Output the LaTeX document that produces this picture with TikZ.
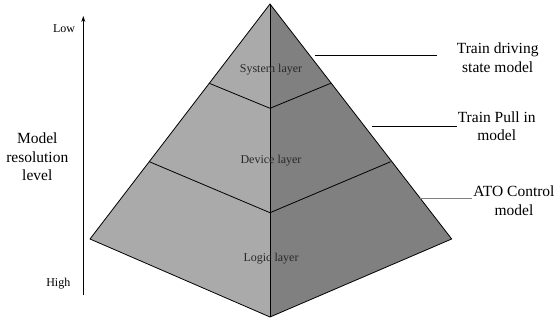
\documentclass[tikz,border=0pt]{standalone}
\usepackage{fontspec}
\setmainfont{Liberation Serif}
\usetikzlibrary{arrows.meta}
\definecolor{faceleft}{RGB}{170,170,170}
\definecolor{faceright}{RGB}{128,128,128}
\definecolor{labelgray}{RGB}{40,40,40}
\begin{document}
\begin{tikzpicture}[x=1pt,y=-1pt,
  edge/.style={line width=0.8pt,line join=round},
  biglabel/.style={inner sep=0pt,align=center,font=\fontsize{15.5}{18.6}\selectfont},
  smalllabel/.style={inner sep=0pt,font=\fontsize{12}{14.4}\selectfont},
  layerlabel/.style={smalllabel,text=labelgray},
  leader/.style={line width=0.8pt}]
\useasboundingbox (0,0) rectangle (557,321);

% pyramid corners
\coordinate (apex) at (270,4);
\coordinate (lc) at (90,239);
\coordinate (rc) at (451.7,239);
\coordinate (bot) at (270,317);
% layer boundaries
\coordinate (l1) at (209.3,83.3);
\coordinate (m1) at (270,108.3);
\coordinate (r1) at (330.7,83.3);
\coordinate (l2) at (149.3,161.7);
\coordinate (m2) at (270,212.7);
\coordinate (r2) at (390.7,161.7);

% two faces
\fill[faceleft] (apex) -- (lc) -- (bot) -- cycle;
\fill[faceright] (apex) -- (rc) -- (bot) -- cycle;
\draw[edge] (apex) -- (lc) -- (bot) -- (rc) -- cycle;
\draw[edge] (apex) -- (bot);
\draw[edge] (l1) -- (m1) -- (r1);
\draw[edge] (l2) -- (m2) -- (r2);

% layer names
\node[layerlabel] (sys) at (271,70) {System layer};
\node[layerlabel] (dev) at (271,161) {Device layer};
\node[layerlabel] (logic) at (271,259) {Logic layer};

% model names with leader lines
\node[biglabel] (m-drive) at (497.7,57.5) {Train driving\\state model};
\node[biglabel] (m-pull) at (496.7,126) {Train Pull in\\model};
\node[biglabel] (m-ato) at (514,200.5) {ATO Control\\model};
\coordinate (a1) at (315,55.7);   \coordinate (b1) at (436.7,55.7);
\coordinate (a2) at (371.7,126.7); \coordinate (b2) at (456.7,126.7);
\coordinate (a3) at (420,198.3);  \coordinate (b3) at (471.7,198.3);
\draw[leader] (a1) -- (b1);
\draw[leader] (a2) -- (b2);
\draw[leader,draw=gray] (a3) -- (b3);

% resolution axis
\coordinate (axlow) at (83.3,295);
\coordinate (axhigh) at (83.3,16);
\draw[line width=0.8pt,-{Stealth[length=6pt,width=4pt]}] (axlow) -- (axhigh);
\node[smalllabel] (low) at (64,28.5) {Low};
\node[smalllabel] (high) at (58.3,283.3) {High};
\node[biglabel] (res) at (37.3,157) {Model\\resolution\\level};
\end{tikzpicture}
\end{document}
